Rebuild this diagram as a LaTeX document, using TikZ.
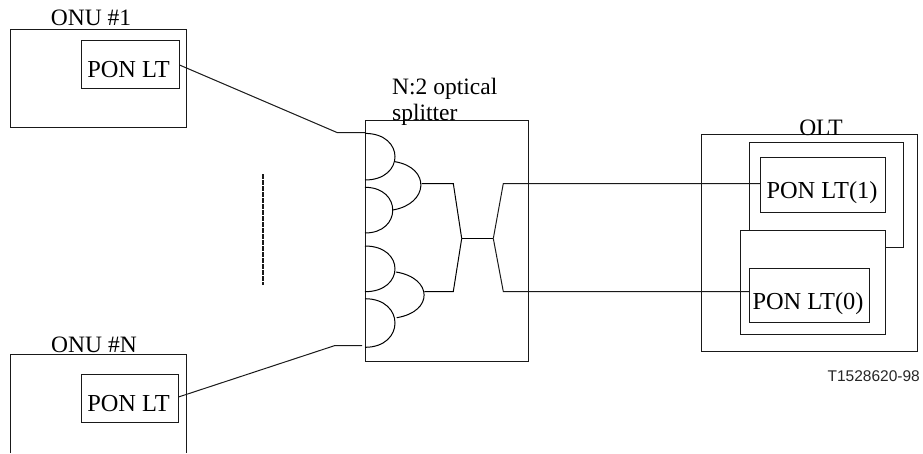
\documentclass[tikz,border=0pt]{standalone}
\usepackage{fontspec}
\setmainfont{Liberation Serif}
\newfontfamily\labelsans{Liberation Sans}
\usetikzlibrary{positioning, calc}
\tikzset{
    vbox/.style={
        draw=black!90, line width=1pt,
        inner sep=0pt, fill=none
    },
    txt/.style={
        font=\fontsize{23.5}{27}\selectfont, text=black,
        anchor=base, inner sep=0pt
    },
    lttxt/.style={txt, font=\fontsize{24.4}{27}\selectfont},
    tag/.style={
        font=\labelsans\fontsize{15.5}{18}\selectfont, text=black!85,
        anchor=base east, inner sep=0pt
    },
    pipe/.style={line width=1pt, draw=black!90},
    joint/.style={line width=1pt, draw=black},
}

\begin{document}
\begin{tikzpicture}[x=1pt, y=-1pt]
\useasboundingbox (0,0) rectangle (923,453);

% ---- ONU #1 ----
\node[vbox, minimum width=176pt, minimum height=98pt] (onu-a) at (98.5,78.5) {};
\node[vbox, minimum width=98pt, minimum height=48pt] (onu-a-lt) at (130,64.5) {};
\node[txt] (onu-a-name) at (91,25) {ONU \#1};
\node[lttxt] (onu-a-text) at (128.5,77.3) {PON LT};

% ---- ONU #N ----
\draw[vbox] (10.5,453) |- (186.5,354.5) -- (186.5,453);
\node[vbox, minimum width=97pt, minimum height=48pt] (onu-n-lt) at (129.5,398.5) {};
\node[txt] (onu-n-name) at (94,352.7) {ONU \#N};
\node[lttxt] (onu-n-text) at (128.5,411.5) {PON LT};

% ---- dashes between the ONUs ----
\coordinate (dots-top) at (263,174);
\coordinate (dots-bot) at (263,285);
\draw[pipe, line width=1.4pt, dash pattern=on 5pt off 1pt] (dots-top) -- (dots-bot);

% ---- splitter ----
\node[vbox, minimum width=163pt, minimum height=241pt] (split) at (365,119.5) [anchor=north west] {};
\node[txt, anchor=base west] (split-a) at (392,94) {N:2 optical};
\node[txt, anchor=base west] (split-b) at (392,120) {splitter};

\coordinate (in-a) at (365,133.4);
\coordinate (in-b) at (365,180);
\coordinate (in-c) at (365,187.3);
\coordinate (in-d) at (365,233);
\coordinate (in-e) at (365,246);
\coordinate (in-f) at (365,291.7);
\coordinate (in-g) at (365,298.7);
\coordinate (in-h) at (365,347.3);
\coordinate (up-a) at (395,161.7);
\coordinate (up-b) at (392.7,210);
\coordinate (lo-a) at (396,272);
\coordinate (lo-b) at (396.7,317.7);
\coordinate (up-out) at (421.7,183.5);
\coordinate (lo-out) at (424.3,291.5);
\coordinate (mid-l) at (461.7,238.5);
\coordinate (mid-r) at (493.3,238.5);

% first stage
\draw[joint] (in-a) .. controls +(40,0) and +(40,0) .. (in-b);
\draw[joint] (in-c) .. controls +(37,0) and +(37,0) .. (in-d);
\draw[joint] (in-e) .. controls +(40,0) and +(40,0) .. (in-f);
\draw[joint] (in-g) .. controls +(40,0) and +(40,0) .. (in-h);
% second stage
\draw[joint] (up-a) .. controls +(36,6) and +(36,-6) .. (up-b);
\draw[joint] (lo-a) .. controls +(37,6) and +(37,-6) .. (lo-b);
% fibre ends
\draw[joint] (up-out) -- (453.3,183.5) -- (mid-l);
\draw[joint] (lo-out) -- (453.3,291.5) -- (mid-l);
\draw[joint] (mid-l) -- (mid-r);

% ---- OLT ----
\node[vbox, minimum width=216pt, minimum height=217pt] (olt) at (809.5,242.5) {};
\node[txt] (olt-name) at (821,135) {OLT};
\draw[vbox] (749.5,230.5) -- (749.5,142.5) -- (903.5,142.5) -- (903.5,247.5) -- (885.5,247.5);
\node[vbox, minimum width=145pt, minimum height=104pt] (olt-front) at (813,282.5) {};
\node[vbox, minimum width=125pt, minimum height=55pt] (lt-one) at (823,184.5) {};
\node[vbox, minimum width=120pt, minimum height=54pt] (lt-zero) at (809.5,295.5) {};
\node[lttxt] (lt-one-text) at (822,198) {PON LT(1)};
\node[lttxt] (lt-zero-text) at (808,309) {PON LT(0)};
\node[tag] (fig-id) at (920,381.7) {T1528620-98};

% ---- fibres ----
\draw[pipe] (onu-a-lt.east |- 0,65) -- (337,132.5) -- (split.west |- 0,132.5);
\draw[pipe] (onu-n-lt.east |- 0,397) -- (335,345.5) -- (362,345.5);
\draw[pipe] (mid-r) -- (503.3,183.5) -- (lt-one.west |- 0,183.5);
\draw[pipe] (mid-r) -- (503.3,291.5) -- (lt-zero.west |- 0,291.5);
\end{tikzpicture}
\end{document}
